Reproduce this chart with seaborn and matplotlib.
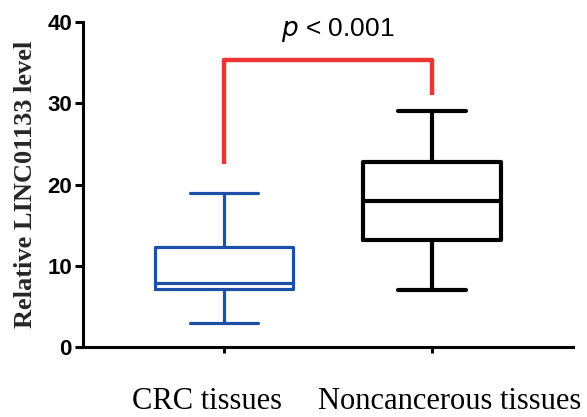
import numpy as np
import pandas as pd
import seaborn as sns
import matplotlib
matplotlib.use("Agg")
import matplotlib.pyplot as plt
import matplotlib.transforms as mtransforms

# Five-number summaries: min, Q1, median, Q3, max
categories = ["CRC tissues", "Noncancerous tissues"]
crc_values = [3.0, 7.1, 7.9, 12.3, 19.0]
normal_values = [7.0, 13.2, 18.0, 22.8, 29.0]
box_colors = ["#1E4FA6", "#000000"]
yticks = [0, 10, 20, 30, 40]
p_label = "$\\it{p}$ < 0.001"
bracket_left, bracket_right, bracket_top = 22.5, 31.0, 35.3

sns.set_style("white")
plt.rcParams["font.family"] = ["Liberation Sans", "DejaVu Sans"]
plt.rcParams["text.color"] = "black"
plt.rcParams["xtick.color"] = "black"
plt.rcParams["ytick.color"] = "black"

df = pd.DataFrame({
    "group": [categories[0]] * len(crc_values) + [categories[1]] * len(normal_values),
    "value": crc_values + normal_values,
})

fig = plt.figure(figsize=(5.87, 4.17), dpi=100)
ax = fig.add_axes([0.1414, 0.168, 0.835, 0.779])

lws = [2.3, 3.0]
for i, (cat, col) in enumerate(zip(categories, box_colors)):
    sub = df[df["group"] == cat]
    sns.boxplot(data=sub, x="group", y="value", order=categories, ax=ax,
                whis=(0, 100), width=0.66, fill=False, color=col,
                linewidth=lws[i], showfliers=False)

# Cap widths
for line in ax.lines:
    xd = line.get_xdata()
    yd = line.get_ydata()
    if len(xd) == 2 and yd[0] == yd[1] and abs(xd[1] - xd[0]) < 0.5:
        c = (xd[0] + xd[1]) / 2
        half = 0.165
        line.set_xdata([c - half, c + half])

ax.set_ylim(0, 40)
ax.set_xlim(-0.678, 1.678)
ax.set_yticks(yticks)
ax.set_yticklabels([str(t) for t in yticks], fontsize=16, fontweight="bold")
ax.set_xticks([0, 1])
ax.set_xticklabels(categories, fontsize=22, fontfamily="Liberation Serif")
ax.set_xlabel("")
ax.set_ylabel("Relative LINC01133 level", fontsize=19, fontweight="bold",
              fontfamily="Liberation Serif")
ax.yaxis.set_label_coords(-0.094, 0.5)

for s in ["top", "right"]:
    ax.spines[s].set_visible(False)
for s in ["left", "bottom"]:
    ax.spines[s].set_linewidth(2.2)
    ax.spines[s].set_color("black")

ax.tick_params(axis="y", which="major", direction="out", length=6, width=2.2,
               left=True, pad=2)
ax.tick_params(axis="x", which="major", direction="out", length=4, width=2.2,
               bottom=True, pad=25)

# shift tick labels horizontally as in the reference
offsets_px = [-17, 18]
for lab, dx in zip(ax.get_xticklabels(), offsets_px):
    off = mtransforms.ScaledTranslation(dx / 100, 0, fig.dpi_scale_trans)
    lab.set_transform(lab.get_transform() + off)

# Significance bracket
ax.plot([0, 0, 1, 1], [bracket_left, bracket_top, bracket_top, bracket_right],
        color="#EE3333", linewidth=3.2, clip_on=False, solid_capstyle="butt")
ax.text(0.548, 39.0, p_label, ha="center", va="center", fontsize=19)

fig.savefig("out.png", dpi=100)
